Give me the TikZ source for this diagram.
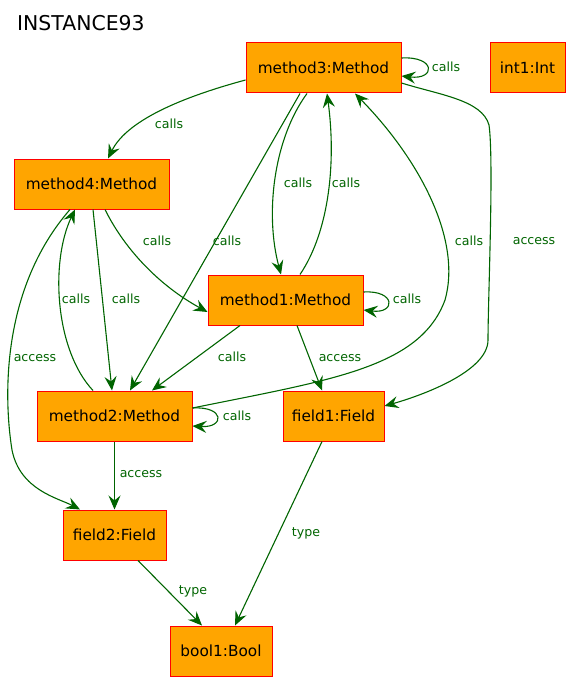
\documentclass[tikz,border=0pt]{standalone}
\usepackage{fontspec}
\setmainfont{DejaVu Sans}
\usetikzlibrary{arrows.meta}
\definecolor{boxfill}{HTML}{FFA500}
\definecolor{relgreen}{HTML}{006400}
\tikzset{
  obj/.style={draw=red,fill=boxfill,line width=1pt,minimum height=50pt,inner sep=0pt,
    font=\fontsize{15.3}{18}\selectfont},
  rel/.style={draw=relgreen,line width=1.1pt,-{Stealth[length=14pt,width=12pt,inset=5pt]}},
  lbl/.style={text=relgreen,inner sep=0pt,font=\fontsize{12.6}{15}\selectfont}
}
\begin{document}
\begin{tikzpicture}[x=1pt,y=-1pt]
%\draw[help lines,step=50pt](0,0)grid(571,682);
\useasboundingbox (0,0) rectangle (571,682);
\node[anchor=west,inner sep=0pt,font=\fontsize{20.4}{24}\selectfont] (title) at (17,23) {INSTANCE93};
\node[obj,minimum width=155pt] (m3) at (323.5,68) {method3:Method};
\node[obj,minimum width=75pt] (i1) at (527.5,68) {int1:Int};
\node[obj,minimum width=155pt] (m4) at (91.5,184) {method4:Method};
\node[obj,minimum width=155pt] (m1) at (285.5,300) {method1:Method};
\node[obj,minimum width=155pt] (m2) at (114.5,416) {method2:Method};
\node[obj,minimum width=101pt] (f1) at (333.5,416) {field1:Field};
\node[obj,minimum width=103pt] (f2) at (114.5,535) {field2:Field};
\node[obj,minimum width=102pt] (b1) at (221,651) {bool1:Bool};
% method3
\draw[rel] ([yshift=-12pt]m3.west) .. controls (190,95) and (128,118) .. ([xshift=16.5pt]m4.north)
  node[lbl] at (169,124) {calls};
\draw[rel] ([yshift=10pt]m3.east) .. controls (436,56) and (436,80) .. ([yshift=-8pt]m3.east)
  node[lbl] at (446,67) {calls};
\draw[rel] ([xshift=-23.5pt]m3.south) -- ([xshift=15.5pt]m2.north)
  node[lbl] at (227,241) {calls};
\draw[rel] ([xshift=-16.5pt]m3.south) .. controls (273,140) and (265,215) .. ([xshift=-4.5pt]m1.north)
  node[lbl] at (298,183) {calls};
\draw[rel] ([yshift=-15pt]m3.east) .. controls (440,95) and (482,100) .. (489,125)
  .. controls (494,160) and (488,300) .. (488,340) .. controls (488,372) and (420,396) .. ([yshift=10pt]f1.east)
  node[lbl] at (534,241) {access};
% method4
\draw[rel] ([xshift=13.5pt]m4.south) .. controls (125,250) and (160,286) .. ([yshift=-12pt]m1.west)
  node[lbl] at (157,241) {calls};
\draw[rel] ([xshift=1.5pt]m4.south) -- ([xshift=-2.5pt]m2.north)
  node[lbl] at (126,299) {calls};
\draw[rel] ([xshift=-21.5pt]m4.south) .. controls (0,290) and (4,400) .. (12,450)
  .. controls (20,490) and (58,498) .. ([xshift=-34.5pt]f2.north)
  node[lbl] at (35,358) {access};
% method1
\draw[rel] ([xshift=14.5pt]m1.north) .. controls (330,230) and (336,160) .. ([xshift=3.5pt]m3.south)
  node[lbl] at (346,183) {calls};
\draw[rel] ([yshift=8pt]m1.east) .. controls (396,290) and (396,314) .. ([yshift=-10pt]m1.east)
  node[lbl] at (407,299) {calls};
\draw[rel] ([xshift=-45.5pt]m1.south) -- ([xshift=37.5pt]m2.north)
  node[lbl] at (232,357) {calls};
\draw[rel] ([xshift=11.5pt]m1.south) -- ([xshift=-11.5pt]f1.north)
  node[lbl] at (340,358) {access};
% method2
\draw[rel] ([xshift=-21.5pt]m2.north) .. controls (55,350) and (50,262) .. ([xshift=-16.5pt]m4.south)
  node[lbl] at (76,299) {calls};
\draw[rel] ([yshift=8pt]m2.east) .. controls (330,380) and (420,368) .. (445,300)
  .. controls (462,240) and (420,160) .. ([xshift=31.5pt]m3.south)
  node[lbl] at (469,241) {calls};
\draw[rel] ([yshift=8pt]m2.east) .. controls (225,406) and (225,428) .. ([yshift=-10pt]m2.east)
  node[lbl] at (237,416) {calls};
\draw[rel] (m2.south) -- (f2.north)
  node[lbl] at (141,474) {access};
% fields
\draw[rel] ([xshift=23.5pt]f2.south) -- ([xshift=-19pt]b1.north)
  node[lbl] at (193,591) {type};
\draw[rel] ([xshift=-11.5pt]f1.south) -- ([xshift=14pt]b1.north)
  node[lbl] at (306,533) {type};
\end{tikzpicture}
\end{document}
